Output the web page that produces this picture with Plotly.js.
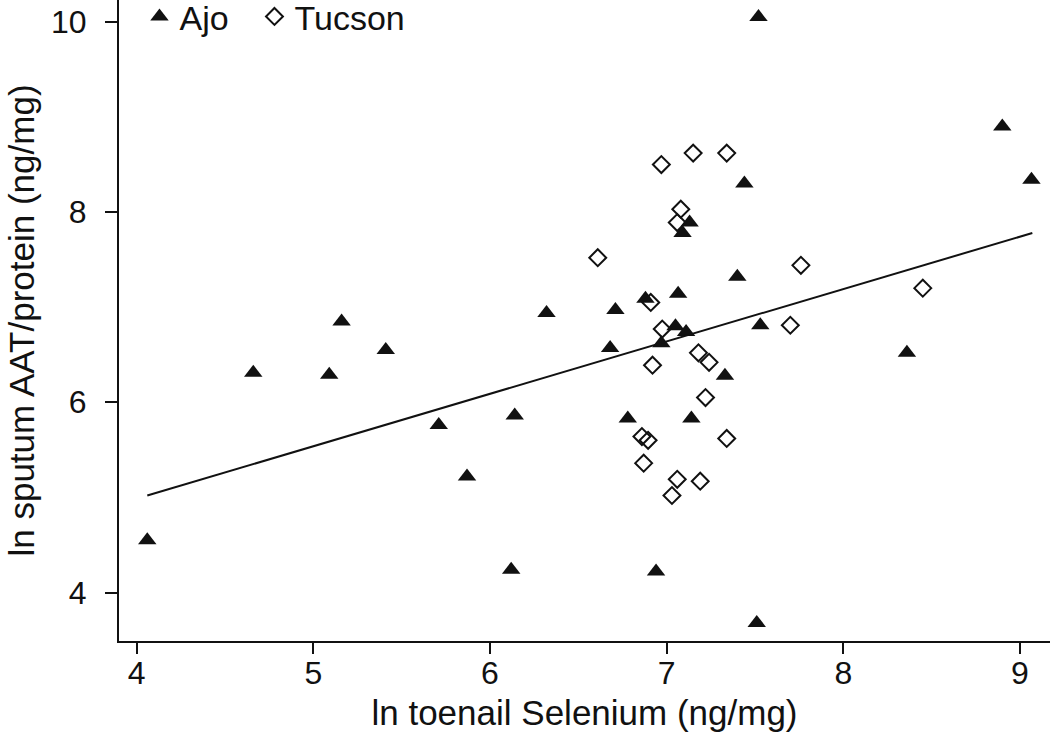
<!DOCTYPE html>
<html>
<head>
<meta charset="utf-8">
<script src="https://cdn.plot.ly/plotly-3.0.1.min.js"></script>
<style>
  html, body { margin: 0; padding: 0; background: #fff; }
  #chart { width: 1050px; height: 754px; }
</style>
</head>
<body>
<div id="chart"></div>
<script>
// Ajo (filled triangles)
var ajoX = [4.06, 4.66, 5.09, 5.16, 5.41, 5.71, 5.87, 6.12, 6.14, 6.32,
            6.68, 6.71, 6.78, 6.88, 6.94, 6.97, 7.05, 7.065, 7.09, 7.11,
            7.13, 7.14, 7.33, 7.40, 7.44, 7.51, 7.52, 7.53, 8.36, 8.90, 9.065];
var ajoY = [4.55, 6.31, 6.29, 6.85, 6.55, 5.76, 5.22, 4.24, 5.86, 6.94,
            6.57, 6.97, 5.83, 7.09, 4.22, 6.62, 6.80, 7.14, 7.78, 6.74,
            7.89, 5.83, 6.28, 7.32, 8.30, 3.68, 10.05, 6.81, 6.52, 8.90, 8.34];

// Tucson (open diamonds)
var tucsonX = [6.61, 6.86, 6.87, 6.895, 6.91, 6.92, 6.97, 6.975, 7.03, 7.06,
               7.06, 7.08, 7.15, 7.18, 7.19, 7.22, 7.24, 7.34, 7.34, 7.70,
               7.76, 8.45];
var tucsonY = [7.52, 5.64, 5.36, 5.60, 7.05, 6.39, 8.50, 6.77, 5.02, 7.89,
               5.19, 8.03, 8.62, 6.52, 5.17, 6.05, 6.42, 8.62, 5.62, 6.81,
               7.44, 7.20];

// fitted line
var fitX = [4.06, 9.07];
var fitY = [5.02, 7.78];

var font = 'Liberation Sans, Arial, Helvetica, sans-serif';

var traces = [
  {
    x: ajoX, y: ajoY, name: 'Ajo', type: 'scatter', mode: 'markers',
    legend: 'legend',
    marker: {symbol: 'triangle-up', size: 16, color: '#111'}
  },
  {
    x: tucsonX, y: tucsonY, name: 'Tucson', type: 'scatter', mode: 'markers',
    legend: 'legend2',
    marker: {symbol: 'diamond-open', size: 13, color: '#111', line: {width: 2, color: '#111'}}
  },
  {
    x: fitX, y: fitY, type: 'scatter', mode: 'lines', showlegend: false,
    line: {color: '#111', width: 2}
  }
];

var legendStyle = function (x) {
  return {
    orientation: 'h', x: x, y: 1.019, xanchor: 'left', yanchor: 'top',
    font: {family: font, size: 34, color: '#111'}, bgcolor: 'rgba(0,0,0,0)'
  };
};

var layout = {
  width: 1050,
  height: 754,
  margin: {l: 119, r: 0, t: 0, b: 113, autoexpand: false},
  paper_bgcolor: '#fff',
  plot_bgcolor: '#fff',
  font: {family: font, size: 32, color: '#111'},
  showlegend: true,
  legend: legendStyle(0.022),
  legend2: legendStyle(0.1455),
  xaxis: {
    range: [3.9, 9.17], tickvals: [4, 5, 6, 7, 8, 9],
    showline: true, linecolor: '#111', linewidth: 2,
    ticks: 'outside', ticklen: 11, tickwidth: 2, tickcolor: '#111',
    showgrid: false, zeroline: false,
    tickfont: {size: 32}, ticklabelstandoff: -8,
    title: {text: 'ln toenail Selenium (ng/mg)', font: {size: 35}, standoff: 10}
  },
  yaxis: {
    range: [3.49, 10.23], tickvals: [4, 6, 8, 10],
    showline: true, linecolor: '#111', linewidth: 2,
    ticks: 'outside', ticklen: 12, tickwidth: 2, tickcolor: '#111',
    showgrid: false, zeroline: false,
    tickfont: {size: 32}, ticklabelstandoff: 12,
    title: {text: 'ln sputum AAT/protein (ng/mg)', font: {size: 35}, standoff: 6}
  }
};

Plotly.newPlot('chart', traces, layout, {displayModeBar: false});
</script>
</body>
</html>
